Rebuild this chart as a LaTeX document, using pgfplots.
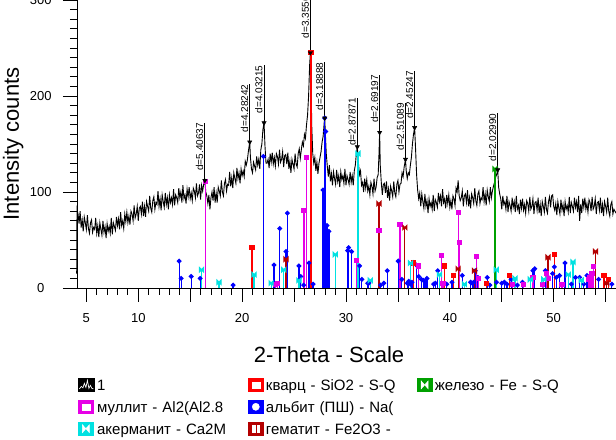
\documentclass[border=0pt]{standalone}
\usepackage{fontspec}
\setmainfont{Liberation Sans}
\usepackage{pgfplots}
\usepackage{pgfplotstable}
\pgfplotsset{compat=1.18}

\definecolor{albite}{RGB}{0,0,255}
\definecolor{mullite}{RGB}{230,0,230}
\definecolor{quartz}{RGB}{255,0,0}
\definecolor{akerm}{RGB}{0,225,225}
\definecolor{hemat}{RGB}{180,0,0}
\definecolor{iron}{RGB}{0,160,0}

\pgfdeclareplotmark{bowtie}{%
  \pgfpathmoveto{\pgfqpoint{-\pgfplotmarksize}{-\pgfplotmarksize}}%
  \pgfpathlineto{\pgfqpoint{0pt}{0pt}}%
  \pgfpathlineto{\pgfqpoint{-\pgfplotmarksize}{\pgfplotmarksize}}%
  \pgfpathclose
  \pgfpathmoveto{\pgfqpoint{\pgfplotmarksize}{-\pgfplotmarksize}}%
  \pgfpathlineto{\pgfqpoint{0pt}{0pt}}%
  \pgfpathlineto{\pgfqpoint{\pgfplotmarksize}{\pgfplotmarksize}}%
  \pgfpathclose
  \pgfusepathqfillstroke}

% measured scan
\pgfplotstableread[row sep=\\]{
x y\\
4.07 15\\ 4.1 82\\ 4.2 77\\ 4.3 67\\ 4.4 80\\ 4.5 63\\ 4.6 71\\ 4.7 59\\ 4.8 74\\ 4.9 68\\ 5.0 61\\
5.1 76\\ 5.2 62\\ 5.3 57\\ 5.4 68\\ 5.5 71\\ 5.6 58\\ 5.7 63\\ 5.8 61\\ 5.9 73\\ 6.0 57\\
6.1 65\\ 6.2 53\\ 6.3 68\\ 6.4 61\\ 6.5 55\\ 6.6 70\\ 6.7 58\\ 6.8 64\\ 6.9 52\\ 7.0 67\\
7.1 59\\ 7.2 64\\ 7.3 57\\ 7.4 73\\ 7.5 56\\ 7.6 68\\ 7.7 64\\ 7.8 60\\ 7.9 74\\ 8.0 65\\
8.1 72\\ 8.2 61\\ 8.3 79\\ 8.4 65\\ 8.5 70\\ 8.6 62\\ 8.7 77\\ 8.8 69\\ 8.9 79\\ 9.0 68\\
9.1 75\\ 9.2 66\\ 9.3 80\\ 9.4 77\\ 9.5 70\\ 9.6 86\\ 9.7 73\\ 9.8 77\\ 9.9 85\\ 10.0 70\\
10.1 83\\ 10.2 85\\ 10.3 77\\ 10.4 90\\ 10.5 75\\ 10.6 85\\ 10.7 74\\ 10.8 90\\ 10.9 85\\ 11.0 80\\
11.1 96\\ 11.2 83\\ 11.3 79\\ 11.4 91\\ 11.5 95\\ 11.6 82\\ 11.7 89\\ 11.8 87\\ 11.9 101\\ 12.0 85\\
12.1 93\\ 12.2 81\\ 12.3 97\\ 12.4 90\\ 12.5 84\\ 12.6 99\\ 12.7 87\\ 12.8 94\\ 12.9 82\\ 13.0 97\\
13.1 89\\ 13.2 94\\ 13.3 87\\ 13.4 103\\ 13.5 86\\ 13.6 97\\ 13.7 94\\ 13.8 89\\ 13.9 104\\ 14.0 94\\
14.1 100\\ 14.2 89\\ 14.3 107\\ 14.4 93\\ 14.5 97\\ 14.6 88\\ 14.7 103\\ 14.8 95\\ 14.9 105\\ 15.0 93\\
15.1 99\\ 15.2 91\\ 15.3 104\\ 15.4 101\\ 15.5 94\\ 15.6 109\\ 15.7 96\\ 15.8 99\\ 15.9 108\\ 16.0 92\\
16.1 107\\ 16.2 101\\ 16.3 108\\ 16.41 112\\ 16.5 100\\ 16.6 96\\ 16.7 88\\ 16.8 97\\ 16.9 82\\ 17.0 94\\
17.1 100\\ 17.2 91\\ 17.3 105\\ 17.4 89\\ 17.5 99\\ 17.6 89\\ 17.7 105\\ 17.8 101\\ 17.9 96\\ 18.0 112\\
18.1 100\\ 18.2 96\\ 18.3 109\\ 18.4 113\\ 18.5 101\\ 18.6 108\\ 18.7 107\\ 18.8 121\\ 18.9 106\\ 19.0 115\\
19.1 104\\ 19.2 120\\ 19.3 114\\ 19.4 109\\ 19.5 125\\ 19.6 114\\ 19.7 120\\ 19.8 109\\ 19.9 124\\ 20.0 117\\
20.1 122\\ 20.2 116\\ 20.3 132\\ 20.4 128\\ 20.5 133\\ 20.6 142\\ 20.73 152\\ 20.8 136\\ 20.9 124\\ 21.0 120\\
21.1 131\\ 21.2 127\\ 21.3 123\\ 21.4 137\\ 21.5 128\\ 21.6 134\\ 21.7 124\\ 21.8 144\\ 21.9 150\\ 22.0 165\\
22.11 172\\ 22.2 148\\ 22.3 130\\ 22.4 130\\ 22.5 134\\ 22.6 125\\ 22.7 140\\ 22.8 131\\ 22.9 141\\ 23.0 129\\
23.1 136\\ 23.2 127\\ 23.3 140\\ 23.4 137\\ 23.5 129\\ 23.6 144\\ 23.7 131\\ 23.8 134\\ 23.9 142\\ 24.0 126\\
24.1 138\\ 24.2 139\\ 24.3 129\\ 24.4 141\\ 24.5 124\\ 24.6 132\\ 24.7 120\\ 24.8 134\\ 24.9 129\\ 25.0 124\\
25.1 140\\ 25.2 129\\ 25.3 126\\ 25.4 140\\ 25.5 145\\ 25.6 135\\ 25.7 144\\ 25.8 152\\ 25.9 148\\ 26.0 160\\
26.1 156\\ 26.2 170\\ 26.3 180\\ 26.4 200\\ 26.5 232\\ 26.57 245\\ 26.63 225\\ 26.7 170\\ 26.8 140\\ 26.9 130\\
27.0 136\\ 27.1 122\\ 27.2 131\\ 27.3 119\\ 27.4 130\\ 27.5 136\\ 27.6 142\\ 27.7 152\\ 27.8 158\\ 27.9 172\\
27.95 177\\ 28.0 165\\ 28.1 140\\ 28.2 127\\ 28.3 116\\ 28.4 128\\ 28.5 111\\ 28.6 119\\ 28.7 107\\ 28.8 121\\
28.9 114\\ 29.0 108\\ 29.1 123\\ 29.2 111\\ 29.3 117\\ 29.4 105\\ 29.5 121\\ 29.6 113\\ 29.7 117\\ 29.8 109\\
29.9 124\\ 30.0 107\\ 30.1 117\\ 30.2 113\\ 30.3 108\\ 30.4 121\\ 30.5 110\\ 30.6 117\\ 30.7 107\\ 30.8 122\\
30.9 128\\ 31.0 140\\ 31.09 147\\ 31.2 130\\ 31.3 118\\ 31.4 122\\ 31.5 107\\ 31.6 110\\ 31.7 100\\ 31.8 114\\
31.9 104\\ 32.0 113\\ 32.1 101\\ 32.2 106\\ 32.3 97\\ 32.4 110\\ 32.5 106\\ 32.6 98\\ 32.7 114\\ 32.8 101\\
32.9 105\\ 33.0 115\\ 33.1 118\\ 33.18 140\\ 33.24 162\\ 33.3 128\\ 33.4 110\\ 33.5 97\\ 33.6 108\\ 33.7 109\\
33.8 99\\ 33.9 111\\ 34.0 94\\ 34.1 103\\ 34.2 91\\ 34.3 106\\ 34.4 101\\ 34.5 95\\ 34.6 111\\ 34.7 99\\
34.8 95\\ 34.9 108\\ 35.0 112\\ 35.1 100\\ 35.2 108\\ 35.3 109\\ 35.4 120\\ 35.5 116\\ 35.6 126\\ 35.73 134\\
35.8 122\\ 35.9 114\\ 36.0 120\\ 36.1 118\\ 36.2 128\\ 36.3 136\\ 36.4 150\\ 36.5 160\\ 36.61 167\\ 36.7 145\\
36.8 118\\ 36.9 102\\ 37.0 93\\ 37.1 99\\ 37.2 85\\ 37.3 98\\ 37.4 90\\ 37.5 83\\ 37.6 98\\ 37.7 85\\
37.8 91\\ 37.9 78\\ 38.0 93\\ 38.1 85\\ 38.2 89\\ 38.3 82\\ 38.4 97\\ 38.5 80\\ 38.6 92\\ 38.7 89\\
38.8 84\\ 38.9 99\\ 39.0 90\\ 39.1 96\\ 39.2 85\\ 39.3 103\\ 39.4 89\\ 39.5 93\\ 39.6 83\\ 39.7 97\\
39.8 88\\ 39.9 97\\ 40.0 84\\ 40.1 91\\ 40.2 82\\ 40.3 96\\ 40.4 93\\ 40.5 86\\ 40.6 104\\ 40.7 100\\
40.8 112\\ 40.9 96\\ 41.0 91\\ 41.1 94\\ 41.2 101\\ 41.3 85\\ 41.4 96\\ 41.5 98\\ 41.6 89\\ 41.7 102\\
41.8 85\\ 41.9 94\\ 42.0 83\\ 42.1 98\\ 42.2 94\\ 42.3 88\\ 42.4 104\\ 42.5 91\\ 42.6 86\\ 42.7 98\\
42.8 101\\ 42.9 88\\ 43.0 94\\ 43.1 92\\ 43.2 105\\ 43.3 90\\ 43.4 98\\ 43.5 86\\ 43.6 102\\ 43.7 95\\
43.8 90\\ 43.9 105\\ 44.0 94\\ 44.1 101\\ 44.2 106\\ 44.3 110\\ 44.4 115\\ 44.5 118\\ 44.61 123\\ 44.7 105\\
44.8 98\\ 44.9 93\\ 45.0 82\\ 45.1 96\\ 45.2 87\\ 45.3 90\\ 45.4 82\\ 45.5 96\\ 45.6 79\\ 45.7 90\\
45.8 86\\ 45.9 80\\ 46.0 94\\ 46.1 84\\ 46.2 90\\ 46.3 79\\ 46.4 96\\ 46.5 82\\ 46.6 86\\ 46.7 77\\
46.8 92\\ 46.9 83\\ 47.0 93\\ 47.1 81\\ 47.2 87\\ 47.3 78\\ 47.4 91\\ 47.5 88\\ 47.6 80\\ 47.7 95\\
47.8 82\\ 47.9 85\\ 48.0 93\\ 48.1 77\\ 48.2 89\\ 48.3 90\\ 48.4 81\\ 48.5 94\\ 48.6 78\\ 48.7 87\\
48.8 75\\ 48.9 90\\ 49.0 85\\ 49.1 79\\ 49.2 95\\ 49.3 82\\ 49.4 78\\ 49.5 90\\ 49.6 95\\ 49.7 84\\
49.8 96\\ 49.9 97\\ 50.0 85\\ 50.1 81\\ 50.2 88\\ 50.3 76\\ 50.4 90\\ 50.5 83\\ 50.6 77\\ 50.7 92\\
50.8 81\\ 50.9 87\\ 51.0 75\\ 51.1 90\\ 51.2 82\\ 51.3 86\\ 51.4 79\\ 51.5 95\\ 51.6 78\\ 51.7 89\\
51.8 85\\ 51.9 80\\ 52.0 94\\ 52.1 84\\ 52.2 90\\ 52.3 79\\ 52.4 96\\ 52.5 70\\ 52.6 87\\ 52.7 78\\
52.8 93\\ 52.9 84\\ 53.0 94\\ 53.1 82\\ 53.2 88\\ 53.3 79\\ 53.4 92\\ 53.5 89\\ 53.6 80\\ 53.7 95\\
53.8 82\\ 53.9 85\\ 54.0 93\\ 54.1 77\\ 54.2 89\\ 54.3 90\\ 54.4 81\\ 54.5 94\\ 54.6 78\\ 54.7 87\\
54.8 75\\ 54.9 90\\ 55.0 85\\ 55.1 79\\ 55.2 94\\ 55.3 80\\ 55.4 75\\ 55.5 87\\ 55.6 90\\ 55.7 77\\
55.8 82\\ 55.9 80\\ 56.0 78\\
}\scan

\begin{document}
\begin{tikzpicture}
\begin{axis}[
  name=ax, scale only axis, width=539pt, height=288pt,
  xmin=4.1, xmax=56, ymin=0, ymax=300,
  axis x line*=bottom, axis y line*=left,
  axis line style={line width=0.8pt},
  clip=false,
  xtick={5,10,...,55}, xticklabels={5,10,,20,,30,,40,,50,},
  minor x tick num=4,
  ytick={0,100,200,300}, yticklabels={0,100,200,300},
  minor y tick num=9,
  tick align=outside,
  major tick length=14pt, minor tick length=7pt,
  every tick/.append style={black, line width=0.8pt},
  tick label style={font=\fontsize{13}{15}\selectfont, inner sep=0pt},
  xticklabel style={anchor=north, yshift=-11pt},
  yticklabel style={anchor=east, text width=22pt, align=center, xshift=-11pt},
  xlabel={2-Theta - Scale},
  xlabel style={at={([yshift=-75pt]axis description cs:0.4675,0)}, anchor=base,
    font=\fontsize{22}{26}\selectfont, inner sep=0pt},
  ylabel={Intensity counts},
  ylabel style={at={([xshift=-58pt]axis description cs:0,0.5)}, anchor=base,
    font=\fontsize{22}{26}\selectfont, inner sep=0pt},
  legend style={at={([xshift=1pt,yshift=-90pt]axis description cs:0,0)},
    anchor=north west, draw=none, fill=none, inner sep=0pt,
    legend columns=3, font=\fontsize{15}{18}\selectfont,
    cells={anchor=base west},
    nodes={inner sep=0pt, text width=151pt, align=left, text height=11pt, text depth=4pt},
    /tikz/every odd column/.style={column sep=2.5pt},
    /tikz/every even column/.style={column sep=0pt},
    row sep=5.7pt},
]
% scan
\addplot[black, line width=0.9pt, forget plot] table[x=x, y=y] {\scan};

% albite
\addplot[ycomb, albite, line width=1.2pt, mark=*, mark size=1.8pt, forget plot] coordinates {
 (13.94,28) (14.13,10) (15.09,12) (15.96,10) (19.13,3) (22.05,137) (23.07,24) (23.62,62)
 (24.23,38) (24.36,78) (25.47,23) (25.64,12) (25.93,3) (26.44,26) (26.83,4) (27.79,102)
 (27.95,177) (28.04,163) (28.17,65) (28.36,59) (30.16,39) (30.25,42) (30.54,38) (31.31,23)
 (31.53,9) (32.1,5) (32.2,5) (33.33,3) (33.65,5) (33.97,18) (35.03,28) (35.38,9)
 (35.9,5) (36.05,7) (36.2,4) (36.35,6) (36.76,24) (37.0,12) (37.25,9) (37.45,8)
 (37.6,7) (37.8,10) (38.45,4) (38.6,5) (38.84,18) (39.7,4) (40.2,6) (41.2,13)
 (42.0,6) (42.15,5) (42.3,6) (42.45,18) (42.7,11) (43.6,11) (43.85,3) (44.5,6)
 (45.0,5) (45.25,6) (45.5,4) (45.9,9) (46.5,3) (47.0,6) (48.0,18) (48.17,20)
 (49.2,18) (49.5,11) (49.9,15) (50.06,22) (50.25,11) (50.57,13) (51.09,26) (51.7,4)
 (52.1,11) (52.5,11) (52.9,4) (53.2,13) (54.32,9) (55.6,4)
};
% mullite
\addplot[ycomb, mullite, line width=1.2pt, mark=square*, mark size=2pt, forget plot] coordinates {
 (16.47,111) (23.2,4) (23.4,5) (25.95,81) (26.22,136) (30.99,29) (33.17,60) (35.21,66)
 (37.01,23) (39.23,34) (39.35,5) (40.86,79) (40.92,47) (42.59,33) (42.75,10) (46.0,4)
 (47.1,4) (48.0,11) (48.9,4) (49.33,15) (49.45,10) (50.8,4) (53.4,9) (53.5,11)
 (53.68,15) (53.87,22)
};
% quartz
\addplot[ycomb, quartz, line width=1.2pt, mark=square*, mark size=2pt, forget plot] coordinates {
 (20.96,42) (26.64,245) (36.53,26) (39.49,23) (40.35,13) (43.52,5) (45.77,13) (50.09,35)
 (54.84,13) (55.28,9)
};
% akermanite
\addplot[ycomb, akerm, line width=1.2pt, mark=bowtie, mark size=2pt, forget plot] coordinates {
 (16.09,19) (17.78,6) (21.15,14) (22.79,5) (24.0,19) (25.47,8) (28.97,35) (31.15,140)
 (32.34,8) (36.22,26) (39.0,14) (41.4,4) (44.46,19) (46.28,10) (47.75,9) (49.05,9)
 (51.41,14) (51.86,27) (52.65,8)
};
% hematite
\addplot[ycomb, hemat, line width=1.2pt, mark=bowtie, mark size=2pt, forget plot] coordinates {
 (24.23,30) (33.17,88) (35.67,63) (40.8,20) (42.37,18) (49.45,32) (54.03,38) (55.1,5)
};
% iron
\addplot[ycomb, iron, line width=1.2pt, mark=bowtie, mark size=2pt, forget plot] coordinates {
 (44.35,124)
};

% peak markers with d-values
\addplot[black, only marks, mark=triangle*, mark size=2.5pt, mark options={rotate=180},
  forget plot,
  error bars/.cd, y dir=plus, y explicit, error mark=none,
  error bar style={line width=0.7pt}] coordinates {
 (16.41,112) +- (0,60) (20.73,152) +- (0,60) (22.11,172) +- (0,60)
 (26.57,245) +- (0,65) (27.95,177) +- (0,58) (31.09,147) +- (0,51)
 (33.24,162) +- (0,60) (35.73,134) +- (0,59) (36.61,167) +- (0,59)
 (44.61,123) +- (0,59)
};
\begin{scope}[every node/.style={rotate=90, anchor=base east, inner sep=0pt,
    font=\fontsize{10}{12}\selectfont}]
\node at ([xshift=-1.6pt]axis cs:16.41,172) {d=5.40637};
\node at ([xshift=-1.6pt]axis cs:20.73,212) {d=4.28242};
\node at ([xshift=-1.6pt]axis cs:22.11,232) {d=4.03215};
\node at ([xshift=-1.6pt]axis cs:26.57,310) {d=3.35560};
\node at ([xshift=-1.6pt]axis cs:27.95,235) {d=3.18888};
\node at ([xshift=-1.6pt]axis cs:31.09,198) {d=2.87871};
\node at ([xshift=-1.6pt]axis cs:33.24,222) {d=2.69197};
\node at ([xshift=-1.6pt]axis cs:35.73,193) {d=2.51089};
\node at ([xshift=-1.6pt]axis cs:36.61,226) {d=2.45247};
\node at ([xshift=-1.6pt]axis cs:44.61,182) {d=2.02990};
\end{scope}

% legend
\addlegendimage{legend image code/.code={
  \fill[black] (0pt,-1pt) rectangle (16pt,12pt);
  \draw[white, line width=0.7pt] (1pt,1.5pt) -- (3pt,4pt) -- (4.5pt,2.5pt) -- (6pt,7pt)
    -- (7.5pt,3pt) -- (9pt,10pt) -- (10.5pt,2pt) -- (12pt,5pt) -- (13.5pt,2pt) -- (15pt,1.5pt);}}
\addlegendentry{1}
\addlegendimage{legend image code/.code={
  \fill[quartz] (0pt,-1pt) rectangle (15pt,12pt);
  \fill[white] (3.5pt,2.5pt) rectangle (11.5pt,8.5pt);}}
\addlegendentry{кварц - SiO2 - S-Q}
\addlegendimage{legend image code/.code={
  \fill[iron] (0pt,-1pt) rectangle (15pt,12pt);
  \fill[white] (4pt,1.5pt) -- (7.5pt,5.5pt) -- (4pt,9.5pt) -- cycle;
  \fill[white] (11pt,1.5pt) -- (7.5pt,5.5pt) -- (11pt,9.5pt) -- cycle;}}
\addlegendentry{железо - Fe - S-Q}
\addlegendimage{legend image code/.code={
  \fill[mullite] (0pt,-1pt) rectangle (15pt,12pt);
  \fill[white] (3.5pt,2.5pt) rectangle (11.5pt,8.5pt);}}
\addlegendentry{муллит - Al2(Al2.8}
\addlegendimage{legend image code/.code={
  \fill[albite] (0pt,-1pt) rectangle (15pt,12pt);
  \fill[white] (7.5pt,5.5pt) circle (3.6pt);}}
\addlegendentry{альбит (ПШ) - Na(}
\addlegendimage{empty legend}
\addlegendentry{}
\addlegendimage{legend image code/.code={
  \fill[akerm] (0pt,-1pt) rectangle (15pt,12pt);
  \fill[white] (4pt,1.5pt) -- (7.5pt,5.5pt) -- (4pt,9.5pt) -- cycle;
  \fill[white] (11pt,1.5pt) -- (7.5pt,5.5pt) -- (11pt,9.5pt) -- cycle;}}
\addlegendentry{акерманит - Ca2M}
\addlegendimage{legend image code/.code={
  \fill[hemat] (0pt,-1pt) rectangle (15pt,12pt);
  \fill[white] (4pt,2pt) rectangle (6.5pt,9pt);
  \fill[white] (8.5pt,2pt) rectangle (11pt,9pt);}}
\addlegendentry{гематит - Fe2O3 -}
\end{axis}
\pgfresetboundingbox
\path[use as bounding box] ([xshift=-77pt,yshift=-152pt]ax.south west) rectangle (ax.north east);
\end{tikzpicture}
\end{document}
